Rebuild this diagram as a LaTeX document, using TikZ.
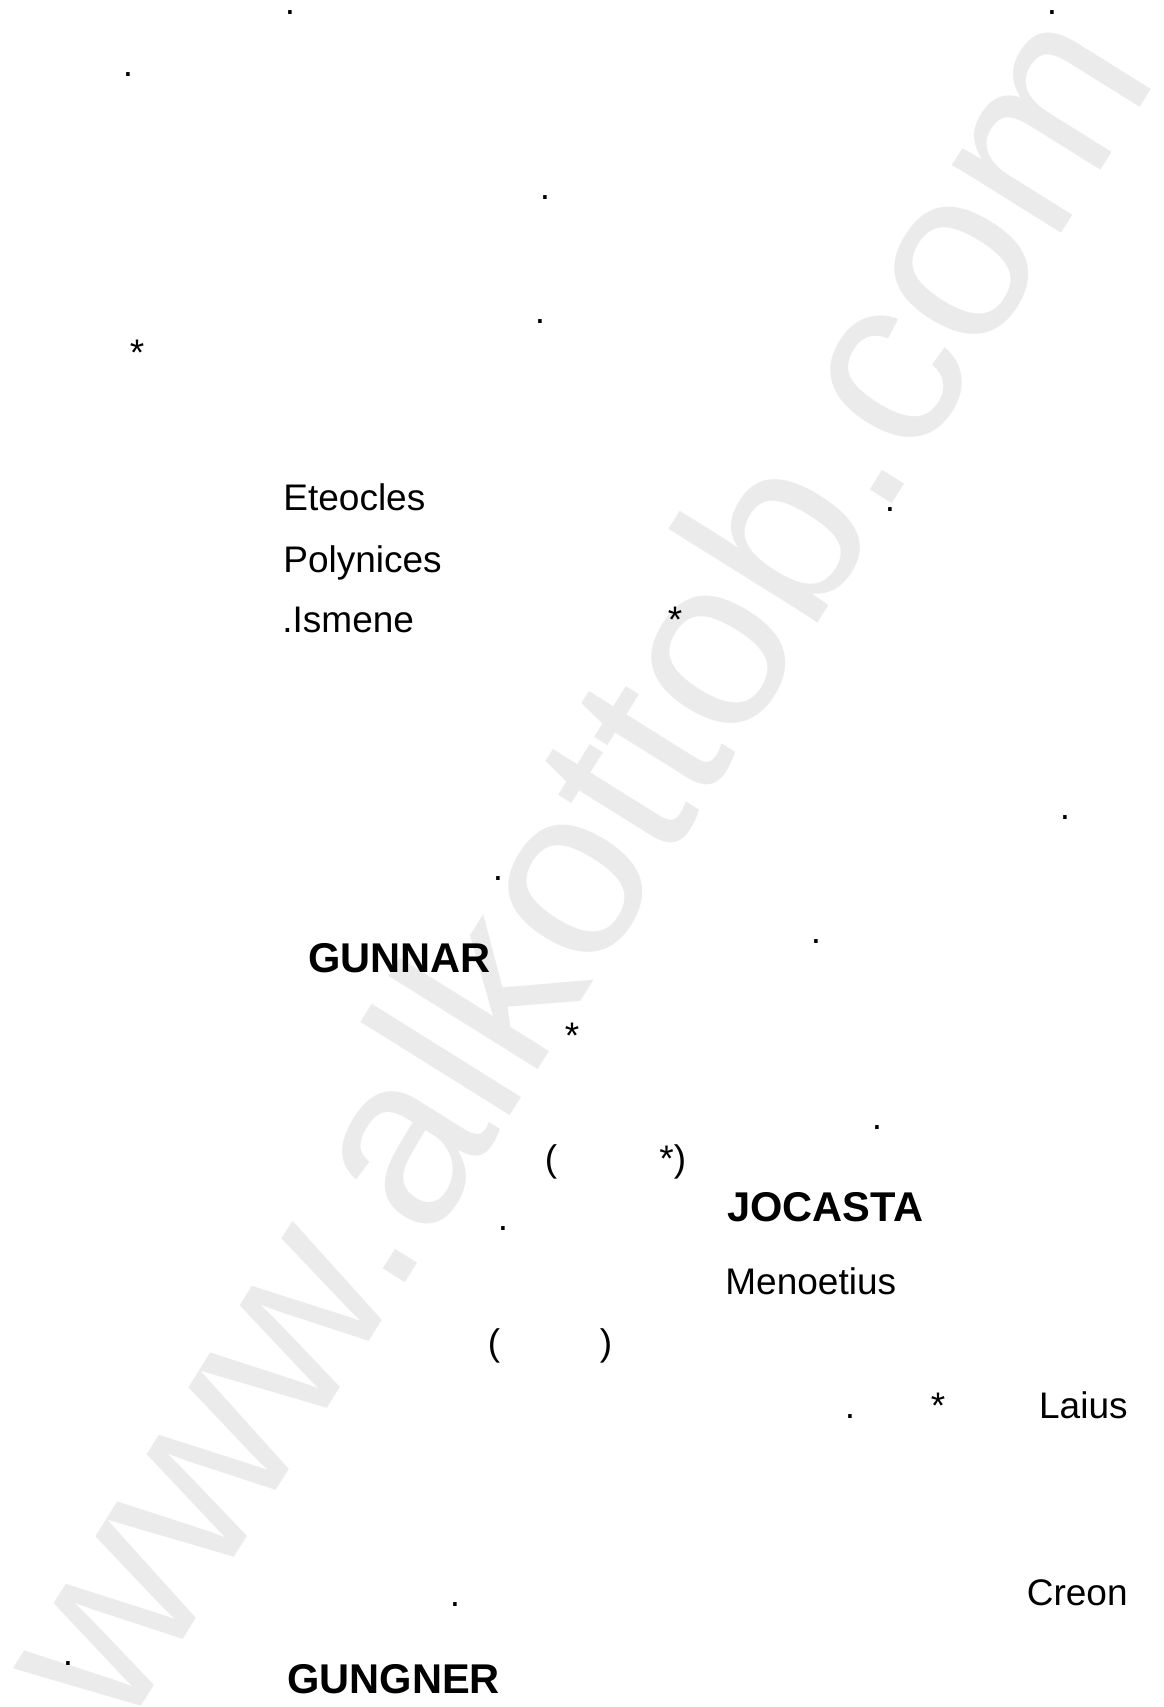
\documentclass[tikz,border=0pt]{standalone}
\usepackage{fontspec}
\setmainfont{Liberation Sans}
\definecolor{wmgray}{RGB}{235,235,235}

\begin{document}
\begin{tikzpicture}[x=0.5bp, y=-0.5bp,
  txt/.style={font=\fontsize{18.5bp}{22bp}\selectfont, inner sep=0pt, anchor=base},
  lbl/.style={txt, anchor=base west},
  rlbl/.style={txt, anchor=base east},
  heavy/.style={font=\fontsize{20.8bp}{25bp}\selectfont\bfseries, inner sep=0pt, anchor=base west},
  wm/.style={font=\fontsize{121.5bp}{140bp}\selectfont, text=wmgray, inner sep=0pt, anchor=base, rotate=58}]
\useasboundingbox (0,0) rectangle (1164,1707);
\fill[white] (0,0) rectangle (1164,1707);
\node[wm] (site) at (641,906) {www.alkottob.com};

\node[txt] (d1) at (290,14) {.};
\node[txt] (d2) at (1052,14) {.};
\node[txt] (d3) at (128,76) {.};
\node[txt] (d4) at (545,199) {.};
\node[txt] (d5) at (540,323) {.};
\node[txt] (s1) at (137,365) {*};

\node[lbl] (eteocles) at (283,510) {Eteocles};
\node[txt] (d6) at (890,511) {.};
\node[lbl] (polynices) at (283,572) {Polynices};
\node[lbl] (ismene) at (282,632) {.Ismene};
\node[txt] (s2) at (675,632) {*};

\node[txt] (d7) at (1065,819) {.};
\node[txt] (d8) at (498,880) {.};
\node[heavy] (gunnar) at (308,972) {GUNNAR};
\node[txt] (d9) at (816,943) {.};
\node[txt] (s3) at (572,1048) {*};
\node[txt] (d10) at (877,1129) {.};

\node[txt] (po1) at (551,1171) {(};
\node[lbl] (pc1) at (659,1171) {*)};
\node[heavy] (jocasta) at (727,1221) {JOCASTA};
\node[txt] (d11) at (503,1230) {.};
\node[lbl] (menoetius) at (725,1294) {Menoetius};
\node[txt] (po2) at (494,1355) {(};
\node[txt] (pc2) at (606,1355) {)};

\node[txt] (d12) at (850,1418) {.};
\node[txt] (s4) at (938,1418) {*};
\node[rlbl] (laius) at (1128,1418) {Laius};
\node[txt] (d13) at (455,1606) {.};
\node[rlbl] (creon) at (1128,1605) {Creon};
\node[txt] (d14) at (68,1665) {.};
\node[heavy] (gungner) at (287,1693) {GUNGNER};
\end{tikzpicture}
\end{document}
